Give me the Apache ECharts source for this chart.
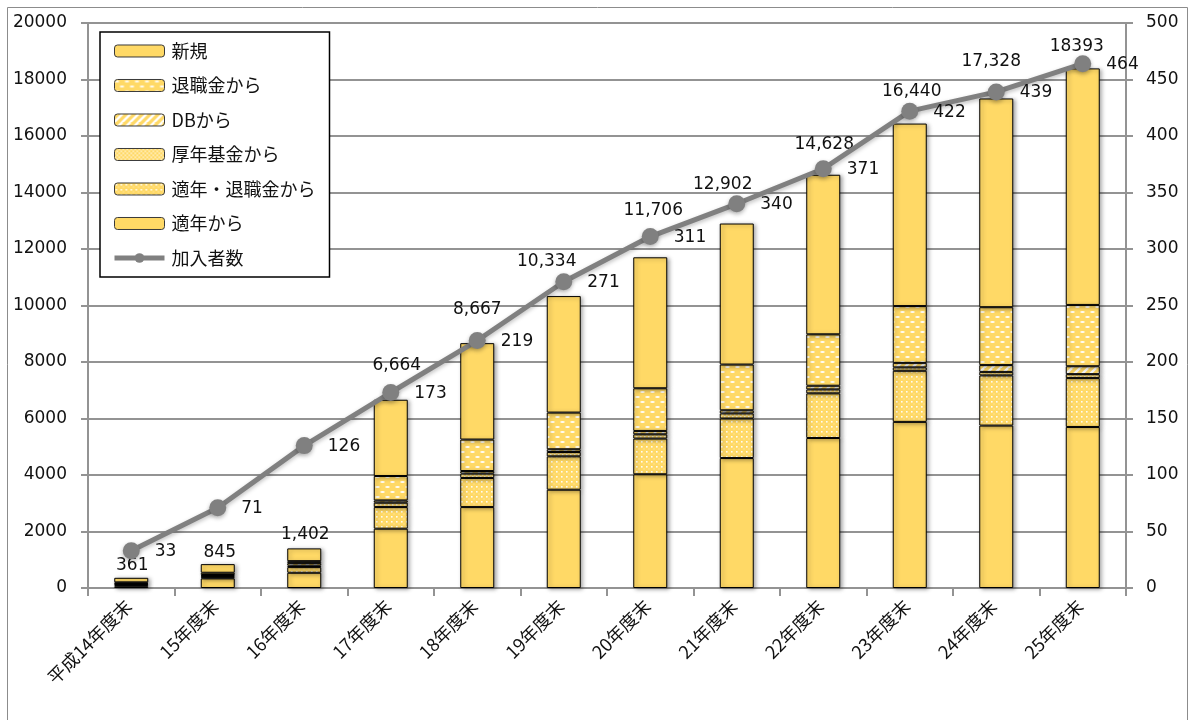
<!DOCTYPE html>
<html>
<head>
<meta charset="utf-8">
<script src="https://cdn.jsdelivr.net/npm/echarts@6/dist/echarts.min.js"></script>
<style>
  html, body { margin: 0; padding: 0; background: #fff; }
  #chart { width: 1189px; height: 720px; }
</style>
</head>
<body>
<div id="chart"></div>
<script>
// Fiscal-year categories
const categories = ['平成14年度末', '15年度末', '16年度末', '17年度末', '18年度末', '19年度末',
  '20年度末', '21年度末', '22年度末', '23年度末', '24年度末', '25年度末'];

// Stacked components (bottom to top)
const fromTekinen       = [60, 340, 540, 2100, 2865, 3480, 4025, 4600, 5310, 5880, 5750, 5700];
const fromTekinenTaishoku = [40, 40, 200, 765, 1030, 1180, 1265, 1400, 1580, 1810, 1775, 1730];
const fromKouseiKikin   = [40, 40, 50, 155, 155, 155, 150, 180, 140, 120, 125, 140];
const fromDB            = [20, 40, 90, 80, 90, 95, 120, 110, 130, 160, 240, 280];
const fromTaishokukin   = [40, 80, 70, 865, 1115, 1300, 1510, 1620, 1820, 2010, 2050, 2170];
const newPlans          = [161, 305, 452, 2699, 3412, 4124, 4636, 4992, 5648, 6460, 7388, 8373];

// Participants (right axis)
const participants = [33, 71, 126, 173, 219, 271, 311, 340, 371, 422, 439, 464];

// Tick settings
const leftAxisMax = 20000, leftAxisStep = 2000;
const rightAxisMax = 500, rightAxisStep = 50;

// Total-label nudges in px: [dx, height of label centre above the stack top]
const totalLabelDx = [1, 2, 1, 6, 0, -17, 3, -14, 1, 2, -5, -6];
const totalLabelRise = [12, 12, 14, 34, 34, 34, 47, 39, 30, 32, 37, 22];

const GOLD = '#FFD966';
const NUM_FONT = '"DejaVu Sans", Verdana, sans-serif';
const JP_FONT = '"Noto Sans CJK JP", "Noto Sans", sans-serif';

function pattern(w, h, draw) {
  const c = document.createElement('canvas');
  c.width = w; c.height = h;
  const ctx = c.getContext('2d');
  ctx.fillStyle = GOLD;
  ctx.fillRect(0, 0, w, h);
  ctx.fillStyle = '#fff';
  ctx.strokeStyle = '#fff';
  draw(ctx);
  return { image: c, repeat: 'repeat' };
}

// white dashes, staggered rows
const dashFill = pattern(10, 10, ctx => {
  ctx.globalAlpha = 0.95;
  ctx.beginPath(); ctx.ellipse(2.5, 2, 2.3, 1, 0, 0, Math.PI * 2); ctx.fill();
  ctx.beginPath(); ctx.ellipse(7.5, 7, 2.3, 1, 0, 0, Math.PI * 2); ctx.fill();
});
// wide upward diagonal stripes
const stripeFill = pattern(8, 8, ctx => {
  ctx.lineWidth = 2.4;
  [[-8, 8, 0, 0], [0, 8, 8, 0], [0, 16, 16, 0]].forEach(([x1, y1, x2, y2]) => {
    ctx.beginPath(); ctx.moveTo(x1, y1); ctx.lineTo(x2, y2); ctx.stroke();
  });
});
// fine checker dots
const fineFill = pattern(4, 4, ctx => {
  ctx.globalAlpha = 0.8;
  ctx.fillRect(0, 0, 1.5, 1.5);
  ctx.fillRect(2, 2, 1.5, 1.5);
});
// small dot grid
const dotFill = pattern(5, 5, ctx => {
  ctx.globalAlpha = 0.9;
  ctx.fillRect(1, 1, 1.6, 1.6);
  ctx.globalAlpha = 0.6;
  ctx.fillRect(3.5, 3.5, 1, 1);
});

const barShadow = {
  borderColor: '#000', borderWidth: 1,
  shadowColor: 'rgba(0,0,0,0.35)', shadowBlur: 4, shadowOffsetX: 2, shadowOffsetY: 1
};

const stackDefs = [
  { name: '適年から', data: fromTekinen, color: GOLD },
  { name: '適年・退職金から', data: fromTekinenTaishoku, color: dotFill },
  { name: '厚年基金から', data: fromKouseiKikin, color: fineFill },
  { name: 'DBから', data: fromDB, color: stripeFill },
  { name: '退職金から', data: fromTaishokukin, color: dashFill },
  { name: '新規', data: newPlans, color: GOLD }
];

const totals = categories.map((_, i) => stackDefs.reduce((s, d) => s + d.data[i], 0));
const lastIdx = categories.length - 1;
const fmtTotal = (v, i) => (i === lastIdx ? String(v) : v.toLocaleString('en-US'));

const LABEL_LH = 20;

const barSeries = stackDefs.map((d, k) => {
  const isTop = k === stackDefs.length - 1;
  return {
    name: d.name,
    type: 'bar',
    stack: 'plans',
    barWidth: 34,
    itemStyle: Object.assign({ color: d.color }, barShadow),
    data: d.data.map((v, i) => isTop ? {
      value: v,
      label: {
        show: true,
        position: 'top',
        distance: 0,
        offset: [totalLabelDx[i], -(totalLabelRise[i] - LABEL_LH / 2)],
        formatter: () => fmtTotal(totals[i], i),
        fontFamily: NUM_FONT, fontSize: 17, color: '#111', lineHeight: LABEL_LH
      }
    } : v)
  };
});

const lineSeries = {
  name: '加入者数',
  type: 'line',
  yAxisIndex: 1,
  data: participants,
  symbol: 'circle',
  symbolSize: 17,
  z: 5,
  lineStyle: { color: '#808080', width: 5, shadowColor: 'rgba(0,0,0,0.25)', shadowBlur: 4, shadowOffsetY: 2 },
  itemStyle: { color: '#808080', shadowColor: 'rgba(0,0,0,0.3)', shadowBlur: 4, shadowOffsetY: 2 },
  label: {
    show: true, position: 'right', distance: 15, offset: [0, 1],
    fontFamily: NUM_FONT, fontSize: 17, color: '#111'
  }
};

const gridColor = '#939393';
const swatchStyle = { borderColor: '#3a3a3a', borderWidth: 1, shadowBlur: 0, shadowColor: 'rgba(0,0,0,0)', shadowOffsetX: 0, shadowOffsetY: 0 };

const option = {
  backgroundColor: '#fff',
  animation: false,
  graphic: [{
    type: 'rect', left: 5, top: 5, silent: true, z: -10,
    shape: { width: 1180, height: 730 },
    style: { fill: 'none', stroke: '#8c8c8c', lineWidth: 1 }
  }],
  grid: { left: 88, right: 63, top: 23, bottom: 132 },
  legend: {
    orient: 'vertical',
    left: 100, top: 32,
    padding: [10, 14, 10, 12],
    itemWidth: 50, itemHeight: 12, itemGap: 16.5,
    backgroundColor: '#fff',
    borderColor: '#000', borderWidth: 1.5,
    textStyle: { fontFamily: JP_FONT, fontSize: 18, color: '#111', padding: [0, 0, 0, 2] },
    data: [
      { name: '新規', itemStyle: swatchStyle },
      { name: '退職金から', itemStyle: swatchStyle },
      { name: 'DBから', itemStyle: swatchStyle },
      { name: '厚年基金から', itemStyle: swatchStyle },
      { name: '適年・退職金から', itemStyle: swatchStyle },
      { name: '適年から', itemStyle: swatchStyle },
      { name: '加入者数', lineStyle: { width: 5, color: '#808080', shadowBlur: 0 },
        itemStyle: { color: '#808080', shadowBlur: 0 } }
    ],
    z: 10
  },
  xAxis: {
    type: 'category',
    data: categories,
    axisLine: { lineStyle: { color: gridColor, width: 2 } },
    axisTick: { show: true, length: 8, lineStyle: { color: gridColor, width: 2 } },
    axisLabel: {
      rotate: 45, margin: 12, interval: 0,
      fontFamily: JP_FONT, fontSize: 18, color: '#111', padding: [0, 4, 0, 0]
    }
  },
  yAxis: [{
    type: 'value', min: 0, max: leftAxisMax, interval: leftAxisStep,
    axisLine: { show: true, lineStyle: { color: gridColor, width: 2 } },
    axisTick: { show: true, length: 7, lineStyle: { color: gridColor, width: 2 } },
    splitLine: { lineStyle: { color: gridColor, width: 2 } },
    axisLabel: { margin: 21, fontFamily: NUM_FONT, fontSize: 17, color: '#111', formatter: v => String(v) }
  }, {
    type: 'value', min: 0, max: rightAxisMax, interval: rightAxisStep,
    position: 'right',
    axisLine: { show: true, lineStyle: { color: gridColor, width: 2 } },
    axisTick: { show: true, length: 7, lineStyle: { color: gridColor, width: 2 } },
    splitLine: { show: false },
    axisLabel: { margin: 20, fontFamily: NUM_FONT, fontSize: 17, color: '#111', formatter: v => String(v) }
  }],
  series: barSeries.concat([lineSeries])
};

const chart = echarts.init(document.getElementById('chart'), null, { renderer: 'canvas' });
chart.setOption(option);
</script>
</body>
</html>
